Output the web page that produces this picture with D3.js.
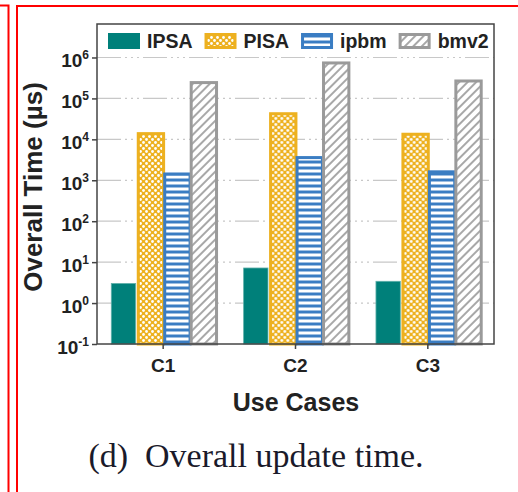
<!DOCTYPE html>
<html>
<head>
<meta charset="utf-8">
<script src="https://cdn.jsdelivr.net/npm/d3@7"></script>
<style>
  html, body { margin: 0; padding: 0; background: #fff; }
  svg { display: block; }
  text { font-family: "Liberation Sans", Arial, sans-serif; font-weight: bold; fill: #222; }
</style>
</head>
<body>
<div id="chart"></div>
<script>
let cases = ['C1', 'C2', 'C3'];
let series = ['IPSA', 'PISA', 'ipbm', 'bmv2'];
let ipsa = [3.1, 7.4, 3.5];
let pisa = [15000, 46000, 14500];
let ipbm = [1550, 3900, 1750];
let bmv2 = [265000, 800000, 290000];
let yTicks = [-1, 0, 1, 2, 3, 4, 5, 6];

let colors = { IPSA: '#00807a', PISA: '#edb120', ipbm: '#3a7dc3', bmv2: '#9a9a9a' };
let values = { IPSA: ipsa, PISA: pisa, ipbm: ipbm, bmv2: bmv2 };

let W = 518, H = 492;
let plot = { left: 97, right: 494, top: 24, bottom: 344 };

let svg = d3.select('#chart').append('svg')
            .attr('width', W)
            .attr('height', H);

// patterns
let defs = svg.append('defs');
let pPisa = defs.append('pattern').attr('id', 'pat-PISA')
                .attr('patternUnits', 'userSpaceOnUse')
                .attr('width', 6).attr('height', 6);
pPisa.append('rect').attr('width', 6).attr('height', 6).attr('fill', colors.PISA);
pPisa.append('circle').attr('cx', 1.5).attr('cy', 1.5).attr('r', 1.4).attr('fill', '#fff');
pPisa.append('circle').attr('cx', 4.5).attr('cy', 4.5).attr('r', 1.4).attr('fill', '#fff');

let pIpbm = defs.append('pattern').attr('id', 'pat-ipbm')
                .attr('patternUnits', 'userSpaceOnUse')
                .attr('width', 8).attr('height', 6);
pIpbm.append('rect').attr('width', 8).attr('height', 6).attr('fill', colors.ipbm);
pIpbm.append('rect').attr('y', 1.5).attr('width', 8).attr('height', 3).attr('fill', '#fff');

let pBmv2 = defs.append('pattern').attr('id', 'pat-bmv2')
                .attr('patternUnits', 'userSpaceOnUse')
                .attr('width', 6).attr('height', 6)
                .attr('patternTransform', 'rotate(45)');
pBmv2.append('rect').attr('width', 6).attr('height', 6).attr('fill', '#fff');
pBmv2.append('line').attr('x1', 1).attr('y1', 0).attr('x2', 1).attr('y2', 6)
     .attr('stroke', '#a8a8a8').attr('stroke-width', 2);

function fillOf(s) { return s === 'IPSA' ? colors.IPSA : `url(#pat-${s})`; }

// red frame lines from the page layout
svg.append('path').attr('d', `M0,5.5 H8.5 V${H}`)
   .attr('fill', 'none').attr('stroke', '#f00').attr('stroke-width', 2);
svg.append('path').attr('d', `M17,${H} V6 H${W}`)
   .attr('fill', 'none').attr('stroke', '#f00').attr('stroke-width', 2);

// scales
let y = d3.scaleLog()
          .domain([0.1, Math.pow(10, 6.818)])
          .range([plot.bottom, plot.top]);
let x0 = d3.scaleBand()
           .domain(cases)
           .range([plot.left, plot.right])
           .padding(0);
let x1 = d3.scaleBand()
           .domain(series)
           .range([0, x0.bandwidth()])
           .paddingInner(0.08)
           .paddingOuter(0.54);

// grid
svg.append('g').attr('class', 'grid')
   .selectAll('line')
   .data(yTicks.filter(t => t > -1))
   .enter()
   .append('line')
   .attr('x1', plot.left).attr('x2', plot.right)
   .attr('y1', t => y(Math.pow(10, t))).attr('y2', t => y(Math.pow(10, t)))
   .attr('stroke', '#c8c8c8')
   .attr('stroke-width', 1.2)
   .attr('stroke-dasharray', '24,4,2,4,2,4,2,4');

// bars
let groups = svg.append('g').attr('class', 'bars')
                .selectAll('g')
                .data(cases)
                .enter()
                .append('g')
                .attr('transform', c => `translate(${x0(c)},0)`);

groups.selectAll('rect')
      .data((c, i) => series.map(s => ({ s: s, v: values[s][i] })))
      .enter()
      .append('rect')
      .attr('x', d => x1(d.s) + (d.s === 'IPSA' ? 0 : 0.5))
      .attr('width', d => x1.bandwidth() + (d.s === 'IPSA' ? 0 : 1))
      .attr('y', d => y(d.v) + (d.s === 'IPSA' ? 0.5 : 1.5))
      .attr('height', d => plot.bottom - y(d.v) - (d.s === 'IPSA' ? 0.5 : 1.5))
      .attr('fill', d => fillOf(d.s))
      .attr('stroke', d => d.s === 'IPSA' ? '#5fb0aa' : colors[d.s])
      .attr('stroke-width', d => d.s === 'IPSA' ? 0.8 : 3);

// frame
svg.append('rect')
   .attr('x', plot.left).attr('y', plot.top)
   .attr('width', plot.right - plot.left).attr('height', plot.bottom - plot.top)
   .attr('fill', 'none').attr('stroke', '#444').attr('stroke-width', 1.5);

// y axis
let yAxis = svg.append('g')
               .attr('transform', `translate(${plot.left},0)`)
               .call(d3.axisLeft(y)
                       .tickValues(yTicks.map(t => Math.pow(10, t)))
                       .tickSize(5)
                       .tickFormat(''));
yAxis.select('.domain').remove();
yAxis.selectAll('line').attr('stroke', '#444').attr('stroke-width', 1.5);
yAxis.selectAll('.tick').each(function(v) {
  let t = d3.select(this).append('text')
            .attr('x', -8)
            .attr('dy', '0.48em')
            .attr('text-anchor', 'end')
            .style('font-size', '19px');
  t.append('tspan').text('10');
  t.append('tspan').attr('dy', -8).style('font-size', '12px')
   .text(Math.round(Math.log10(v)));
});

// x axis
let xAxis = svg.append('g')
               .attr('transform', `translate(0,${plot.bottom})`)
               .call(d3.axisBottom(x0).tickSize(5).tickSizeOuter(0));
xAxis.select('.domain').remove();
xAxis.selectAll('line').attr('stroke', '#444').attr('stroke-width', 1.5);
xAxis.selectAll('text')
     .attr('y', 15)
     .style('font-family', '"Liberation Sans", Arial, sans-serif')
     .style('font-weight', 'bold')
     .style('font-size', '19px')
     .style('fill', '#222');

// axis titles
svg.append('text')
   .attr('transform', 'translate(42,187) rotate(-90)')
   .attr('text-anchor', 'middle')
   .style('font-size', '26px')
   .text('Overall Time (\u00b5s)');
svg.append('text')
   .attr('x', 296).attr('y', 411)
   .attr('text-anchor', 'middle')
   .style('font-size', '25px')
   .text('Use Cases');

// caption
svg.append('text')
   .attr('x', 256).attr('y', 467)
   .attr('text-anchor', 'middle')
   .style('font-family', '"Liberation Serif", "Times New Roman", serif')
   .style('font-weight', 'normal')
   .style('font-size', '34px')
   .style('fill', '#1a1a2a')
   .text('(d)\u2002Overall update time.');

// legend
let legend = svg.append('g').attr('class', 'legend');
let lx = 108;
series.forEach(s => {
  legend.append('rect')
        .attr('x', lx + (s === 'IPSA' ? 0 : 1.5)).attr('y', 33 + (s === 'IPSA' ? 0 : 1.5))
        .attr('width', s === 'IPSA' ? 32 : 29).attr('height', s === 'IPSA' ? 16 : 13)
        .attr('fill', fillOf(s))
        .attr('stroke', s === 'IPSA' ? 'none' : colors[s])
        .attr('stroke-width', 3);
  let t = legend.append('text')
                .attr('x', lx + 39).attr('y', 48)
                .style('font-size', '19.5px')
                .text(s);
  lx += 39 + t.node().getComputedTextLength() + 12;
});
</script>
</body>
</html>
